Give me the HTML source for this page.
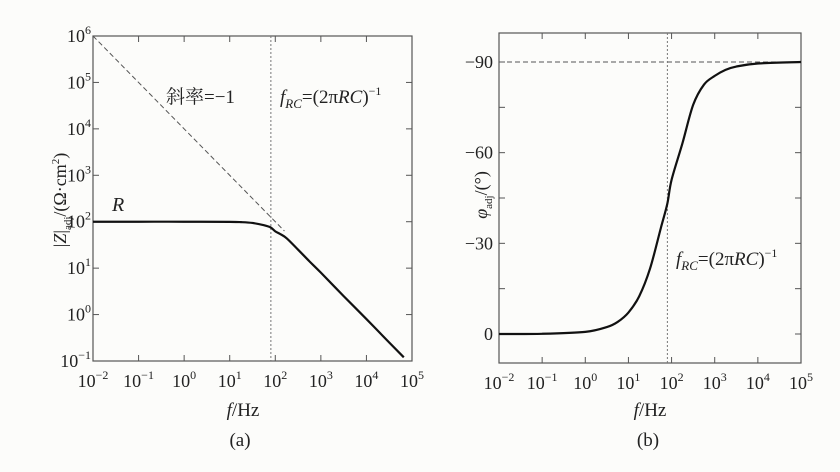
<!DOCTYPE html>
<html><head><meta charset="utf-8"><style>
body{margin:0;background:#fcfcfa;}
svg{display:block;font-family:"Liberation Serif","Noto Serif CJK SC",serif;}
</style></head><body>
<svg id="c" width="840" height="472" viewBox="0 0 840 472">
<rect width="840" height="472" fill="#fcfcfa"/>
</svg>
<script>
// Panel (a) data: log10 frequency and |Z| values
const magLogF = [-2, -1, 0, 1, 1.25, 1.5, 1.75, 1.9, 2.0, 2.1, 2.25, 2.5, 2.75, 3, 3.5, 4, 4.5, 4.82];
const magZ = [100, 100, 100, 99.2, 98, 94, 84, 75, 62, 55, 44, 25, 14, 8, 2.5, 0.8, 0.25, 0.12];
// Panel (b) data: log10 frequency and phase (deg)
const phLogF = [-2, -1, 0, 0.5, 0.75, 1, 1.25, 1.5, 1.75, 1.9, 2, 2.25, 2.5, 2.75, 3, 3.25, 3.5, 4, 5];
const phVal = [-0.01, -0.07, -0.7, -2.3, -4, -7.1, -12.5, -21.6, -35, -43, -51, -63, -75.8, -82.5, -85.4, -87.4, -88.5, -89.5, -90];
const xTickExp = [-2, -1, 0, 1, 2, 3, 4, 5];
const yTickExpA = [-1, 0, 1, 2, 3, 4, 5, 6];
const yTicksB = [0, -30, -60, -90];
const yMinorB = [-15, -45, -75];
const fRC = 80;

const NS = "http://www.w3.org/2000/svg";
const svg = document.getElementById('c');
function mk(tag, attrs, parent) { const e = document.createElementNS(NS, tag); for (const k in attrs) e.setAttribute(k, attrs[k]); (parent || svg).appendChild(e); return e; }
function smooth(pts) {
  let d = `M${pts[0][0]},${pts[0][1]}`;
  for (let i = 0; i < pts.length - 1; i++) {
    const p0 = pts[i - 1] || pts[i], p1 = pts[i], p2 = pts[i + 1], p3 = pts[i + 2] || p2;
    const c1 = [p1[0] + (p2[0] - p0[0]) / 6, p1[1] + (p2[1] - p0[1]) / 6];
    const c2 = [p2[0] - (p3[0] - p1[0]) / 6, p2[1] - (p3[1] - p1[1]) / 6];
    d += ` C${c1[0]},${c1[1]} ${c2[0]},${c2[1]} ${p2[0]},${p2[1]}`;
  }
  return d;
}
function powLabel(x, y, exp, anchor, name) {
  const t = mk('text', { x: x, y: y, 'font-size': 18, 'text-anchor': anchor, fill: '#222' });
  
  
  t.innerHTML = `10<tspan dy="-8" font-size="12">${exp < 0 ? '−' + (-exp) : exp}</tspan>`;
  return t;
}

// ===== Panel (a) =====
const A = { x0: 93, x1: 412, y0: 36, y1: 361 };
const axA = l => A.x0 + (l + 2) * (A.x1 - A.x0) / 7;
const ayA = v => A.y1 - (Math.log10(v) + 1) * (A.y1 - A.y0) / 7;
const gA = mk('g', {});  
const frA = mk('rect', { x: A.x0, y: A.y0, width: A.x1 - A.x0, height: A.y1 - A.y0, fill: 'none', stroke: '#555', 'stroke-width': 1.2 }, gA);


xTickExp.forEach(e => {
  const x = axA(e);
  mk('line', { x1: x, y1: A.y1, x2: x, y2: A.y1 - 6, stroke: '#555' }, gA);
  mk('line', { x1: x, y1: A.y0, x2: x, y2: A.y0 + 6, stroke: '#555' }, gA);
  powLabel(x, A.y1 + 26, e, 'middle', 'x-tick-label-a');
});
yTickExpA.forEach(e => {
  const y = ayA(Math.pow(10, e));
  mk('line', { x1: A.x0, y1: y, x2: A.x0 + 6, y2: y, stroke: '#555' }, gA);
  mk('line', { x1: A.x1, y1: y, x2: A.x1 - 6, y2: y, stroke: '#555' }, gA);
  powLabel(A.x0 - 2, y + 6, e, 'end', 'y-tick-label-a');
});
const asym = mk('line', { x1: axA(-2), y1: ayA(1e6), x2: axA(2.2), y2: ayA(1e4 / Math.pow(10, 2.2)), stroke: '#555', 'stroke-dasharray': '5,3', 'stroke-width': 1 }, gA);


const vA = mk('line', { x1: axA(Math.log10(fRC)), y1: A.y0, x2: axA(Math.log10(fRC)), y2: A.y1, stroke: '#777', 'stroke-dasharray': '2,2' }, gA);


const cA = mk('path', { d: smooth(magLogF.map((l, i) => [axA(l), ayA(magZ[i])])), fill: 'none', stroke: '#111', 'stroke-width': 2.2 }, gA);



// ===== Panel (b) =====
const B = { x0: 499, x1: 801, y0: 33, y1: 363 };
const axB = l => B.x0 + (l + 2) * (B.x1 - B.x0) / 7;
const ayB = v => 334 + v * (334 - 62) / 90;
const gB = mk('g', {});  
const frB = mk('rect', { x: B.x0, y: B.y0, width: B.x1 - B.x0, height: B.y1 - B.y0, fill: 'none', stroke: '#555', 'stroke-width': 1.2 }, gB);


xTickExp.forEach(e => {
  const x = axB(e);
  mk('line', { x1: x, y1: B.y1, x2: x, y2: B.y1 - 6, stroke: '#555' }, gB);
  mk('line', { x1: x, y1: B.y0, x2: x, y2: B.y0 + 6, stroke: '#555' }, gB);
  powLabel(x, B.y1 + 26, e, 'middle', 'x-tick-label-b');
});
yTicksB.concat(yMinorB).forEach(v => {
  const y = ayB(v);
  mk('line', { x1: B.x0, y1: y, x2: B.x0 + 6, y2: y, stroke: '#555' }, gB);
  mk('line', { x1: B.x1, y1: y, x2: B.x1 - 6, y2: y, stroke: '#555' }, gB);
});
yTicksB.forEach(v => {
  const t = mk('text', { x: B.x0 - 6, y: ayB(v) + 6, 'font-size': 18, 'text-anchor': 'end', fill: '#222' }, gB);
  
  
  t.textContent = v === 0 ? '0' : '−' + (-v);
});
const hB = mk('line', { x1: B.x0, y1: ayB(-90), x2: B.x1, y2: ayB(-90), stroke: '#555', 'stroke-dasharray': '5,3' }, gB);


const vB = mk('line', { x1: axB(Math.log10(fRC)), y1: B.y0, x2: axB(Math.log10(fRC)), y2: B.y1, stroke: '#777', 'stroke-dasharray': '2,2' }, gB);


const cB = mk('path', { d: smooth(phLogF.map((l, i) => [axB(l), ayB(phVal[i])])), fill: 'none', stroke: '#111', 'stroke-width': 2.2 }, gB);


</script>
<svg width="840" height="472" viewBox="0 0 840 472" style="position:absolute;left:0;top:0">
<g font-family="Liberation Serif, Noto Serif CJK SC, serif" fill="#222">
<text x="166" y="103" font-size="19">斜率=−1</text>
<text x="280" y="103" font-size="19"><tspan font-style="italic">f</tspan><tspan font-style="italic" font-size="13" dy="5">RC</tspan><tspan dy="-5">=(2π</tspan><tspan font-style="italic">RC</tspan>)<tspan font-size="12" dy="-8">−1</tspan></text>
<text x="112" y="211" font-size="20" font-style="italic">R</text>
<text x="676" y="265" font-size="19"><tspan font-style="italic">f</tspan><tspan font-style="italic" font-size="13" dy="5">RC</tspan><tspan dy="-5">=(2π</tspan><tspan font-style="italic">RC</tspan>)<tspan font-size="12" dy="-8">−1</tspan></text>
<text transform="translate(66,200) rotate(-90)" font-size="18" text-anchor="middle">|<tspan font-style="italic">Z</tspan>|<tspan font-size="11" dy="5">adj</tspan><tspan dy="-5">/(Ω·cm</tspan><tspan font-size="11" dy="-7">2</tspan><tspan dy="7">)</tspan></text>
<text transform="translate(487,195) rotate(-90)" font-size="18" text-anchor="middle"><tspan font-style="italic">φ</tspan><tspan font-size="11" dy="5">adj</tspan><tspan dy="-5">/(°)</tspan></text>
<text x="243" y="416" font-size="19" text-anchor="middle"><tspan font-style="italic">f</tspan>/Hz</text>
<text x="650" y="416" font-size="19" text-anchor="middle"><tspan font-style="italic">f</tspan>/Hz</text>
<text x="240" y="446" font-size="19" text-anchor="middle">(a)</text>
<text x="648" y="446" font-size="19" text-anchor="middle">(b)</text>
</g>
</svg>
</body></html>
